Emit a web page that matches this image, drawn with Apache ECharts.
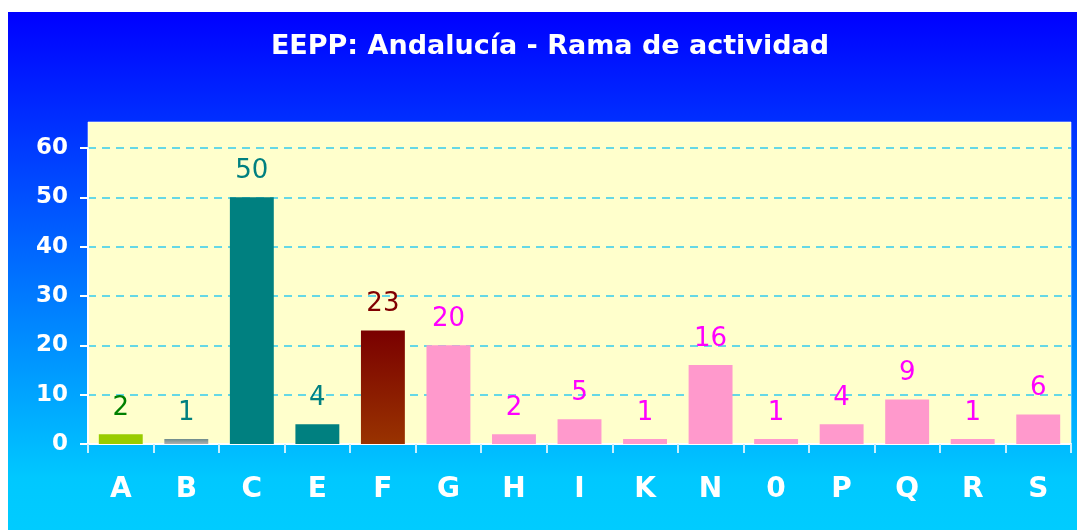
<!DOCTYPE html>
<html>
<head>
<meta charset="utf-8">
<title>EEPP: Andalucía - Rama de actividad</title>
<script src="https://cdn.jsdelivr.net/npm/echarts@6/dist/echarts.min.js"></script>
<style>
  html, body { margin: 0; padding: 0; background: #ffffff; }
  #chart { width: 1077px; height: 530px; }
</style>
</head>
<body>
<div id="chart"></div>
<script>
// Ramas de actividad (CNAE) y número de EEPP por rama
const categories = ['A', 'B', 'C', 'E', 'F', 'G', 'H', 'I', 'K', 'N', '0', 'P', 'Q', 'R', 'S'];
const values = [2, 1, 50, 4, 23, 20, 2, 5, 1, 16, 1, 4, 9, 1, 6];
const yTicks = [0, 10, 20, 30, 40, 50, 60];

const FONT = '"DejaVu Sans", Verdana, sans-serif';

// Fill and label colour for each branch
function barStyle(cat) {
  switch (cat) {
    case 'A': return { fill: '#99CC00', label: '#008000' };
    case 'B': return {
      fill: new echarts.graphic.LinearGradient(0, 0, 0, 1, [
        { offset: 0, color: '#6E8C8C' }, { offset: 1, color: '#B0B0B0' }
      ]),
      label: '#008080'
    };
    case 'C':
    case 'E': return { fill: '#008080', label: '#008080' };
    case 'F': return {
      fill: new echarts.graphic.LinearGradient(0, 0, 0, 1, [
        { offset: 0, color: '#7A0000' }, { offset: 1, color: '#993300' }
      ]),
      label: '#800000'
    };
    default: return { fill: '#FF99CC', label: '#FF00FF' };
  }
}

const seriesData = values.map((v, i) => {
  const s = barStyle(categories[i]);
  return {
    value: v,
    itemStyle: { color: s.fill },
    label: { color: s.label }
  };
});

const chart = echarts.init(document.getElementById('chart'));

const gridLeft = 88, gridRight = 6, gridTop = 148, gridBottom = 86;

chart.setOption({
  animation: false,
  graphic: [
    {
      type: 'rect',
      z: -10,
      shape: { x: 8, y: 12, width: 1069, height: 518 },
      style: {
        fill: new echarts.graphic.LinearGradient(0, 0, 0, 1, [
          { offset: 0, color: '#0000FF' },
          { offset: 0.9, color: '#00C8FF' },
          { offset: 1, color: '#00CCFF' }
        ])
      }
    },
    {
      type: 'rect',
      z: -9,
      shape: { x: 88, y: 122, width: 983, height: 322 },
      style: { fill: '#FFFFCC', stroke: 'rgba(255,255,255,0.6)', lineWidth: 1 }
    },
    {
      type: 'text',
      x: 550,
      y: 47,
      style: {
        text: 'EEPP: Andalucía - Rama de actividad',
        fill: '#FFFFFF',
        font: 'bold 27px ' + FONT,
        textAlign: 'center',
        textVerticalAlign: 'middle'
      }
    }
  ],
  grid: { left: gridLeft, right: gridRight, top: gridTop, bottom: gridBottom, containLabel: false },
  xAxis: {
    type: 'category',
    data: categories,
    boundaryGap: true,
    axisLine: { show: true, lineStyle: { color: '#FFFFFF', width: 2 } },
    axisTick: { show: true, interval: 0, length: 9, lineStyle: { color: '#C8F0FF', width: 2 } },
    axisLabel: {
      interval: 0,
      margin: 32,
      color: '#FFFFFF',
      fontFamily: FONT,
      fontWeight: 'bold',
      fontSize: 28
    }
  },
  yAxis: {
    type: 'value',
    min: yTicks[0],
    max: yTicks[yTicks.length - 1],
    interval: 10,
    axisLine: { show: true, lineStyle: { color: '#FFFFFF', width: 2 } },
    axisTick: { show: true, length: 8, lineStyle: { color: '#FFFFFF', width: 2 } },
    axisLabel: {
      margin: 20,
      color: '#FFFFFF',
      fontFamily: FONT,
      fontWeight: 'bold',
      fontSize: 23
    },
    splitLine: {
      show: true,
      lineStyle: { color: '#33CCEE', type: [8, 6], width: 1.5 }
    }
  },
  series: [{
    type: 'bar',
    data: seriesData,
    barCategoryGap: '33%',
    label: {
      show: true,
      position: 'top',
      distance: 13,
      fontFamily: FONT,
      fontSize: 26
    }
  }]
});
</script>
</body>
</html>
